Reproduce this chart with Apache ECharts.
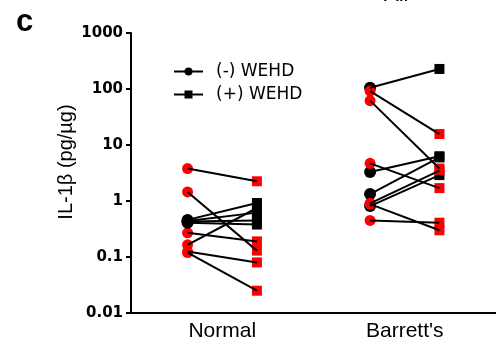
<!DOCTYPE html>
<html>
<head>
<meta charset="utf-8">
<script src="https://cdn.jsdelivr.net/npm/echarts@6/dist/echarts.min.js"></script>
<style>html,body{margin:0;padding:0;background:#fff}#c{width:496px;height:348px}</style>
</head>
<body>
<div id="c"></div>
<script>
const categories = ['Normal', "Barrett's"];
const yTickLabels = ['0.01', '0.1', '1', '10', '100', '1000'];
const legendNames = ['(-) WEHD', '(+) WEHD'];
// Normal group: paired values, (-) WEHD then (+) WEHD
const normalRedMinus = [3.8, 1.45, 0.27, 0.165, 0.125, 0.12];
const normalRedPlus = [2.25, 0.13, 0.19, 0.75, 0.08, 0.025];
const normalBlackMinus = [0.46, 0.44, 0.43, 0.41];
const normalBlackPlus = [0.92, 0.62, 0.45, 0.38];
// Barrett's group
const barrettRedMinus = [92, 62, 4.7, 0.91, 0.88, 0.45];
const barrettRedPlus = [15.7, 3.8, 1.7, 3.5, 0.30, 0.41];
const barrettBlackMinus = [105, 3.3, 1.33, 0.81];
const barrettBlackPlus = [228, 6.3, 6.0, 2.9];

const OFF = 0.19;
function pts(vals, catIdx, side) {
  const x = catIdx + 0.5 + side * OFF;
  return vals.map(v => [x, v]);
}
const RED = '#ff0000', BLACK = '#000000';
const series = [];
function scatter(data, symbol, color, z, size) {
  series.push({type: 'scatter', xAxisIndex: 1, data, symbol, symbolSize: size,
    itemStyle: {color, opacity: 1}, z, silent: true, emphasis: {disabled: true}});
}
// Normal: black markers over red
scatter(pts(normalRedMinus, 0, -1), 'circle', RED, 2, 11);
scatter(pts(normalRedPlus, 0, 1), 'rect', RED, 2, 10);
scatter(pts(normalBlackMinus, 0, -1), 'circle', BLACK, 3, 12);
scatter(pts(normalBlackPlus, 0, 1), 'rect', BLACK, 3, 10);
// Barrett's: red over black
scatter(pts(barrettBlackMinus, 1, -1), 'circle', BLACK, 2, 12);
scatter(pts(barrettBlackPlus, 1, 1), 'rect', BLACK, 2, 10);
scatter(pts(barrettRedMinus, 1, -1), 'circle', RED, 3, 11);
scatter(pts(barrettRedPlus, 1, 1), 'rect', RED, 3, 10);

function pairs(minus, plus, catIdx) {
  minus.forEach((m, i) => {
    series.push({type: 'line', xAxisIndex: 1, symbol: 'none', silent: true, z: 5,
      lineStyle: {color: BLACK, width: 2}, data: [[catIdx + 0.5 - OFF, m], [catIdx + 0.5 + OFF, plus[i]]]});
  });
}
pairs(normalRedMinus, normalRedPlus, 0);
pairs(normalBlackMinus, normalBlackPlus, 0);
pairs(barrettRedMinus, barrettRedPlus, 1);
pairs(barrettBlackMinus, barrettBlackPlus, 1);

series.push({type: 'line', name: legendNames[0], xAxisIndex: 1, data: [], symbol: 'circle', symbolSize: 10,
  itemStyle: {color: BLACK}, lineStyle: {color: BLACK, width: 2}});
series.push({type: 'line', name: legendNames[1], xAxisIndex: 1, data: [], symbol: 'rect', symbolSize: 10,
  itemStyle: {color: BLACK}, lineStyle: {color: BLACK, width: 2}});

const chart = echarts.init(document.getElementById('c'), null, {renderer: 'canvas'});
chart.setOption({
  animation: false,
  backgroundColor: '#fff',
  grid: {left: 131, right: 0, top: 33, bottom: 35, containLabel: false},
  legend: {data: legendNames, orient: 'vertical', left: 168, top: 58, itemWidth: 29, itemHeight: 10, itemGap: 6,
    selectedMode: false, textStyle: {color: '#000', fontFamily: 'DejaVu Sans', fontSize: 17, padding: [0, 0, 0, 8]}},
  xAxis: [
    {type: 'category', data: categories, boundaryGap: true,
      axisLine: {lineStyle: {color: '#000', width: 2}},
      axisTick: {alignWithLabel: true, length: 4, lineStyle: {color: '#000', width: 2}},
      axisLabel: {color: '#000', fontFamily: 'Liberation Sans', fontSize: 21, margin: 8}},
    {type: 'value', min: 0, max: 2, show: false}
  ],
  yAxis: {type: 'log', logBase: 10, min: 0.01, max: 1000,
    axisLine: {show: true, lineStyle: {color: '#000', width: 2}},
    axisTick: {show: true, length: 5, lineStyle: {color: '#000', width: 2}},
    minorTick: {show: false}, splitLine: {show: false},
    axisLabel: {color: '#000', fontFamily: 'DejaVu Sans', fontWeight: 'bold', fontSize: 15, margin: 8,
      formatter: (v) => { const i = Math.round(Math.log10(v)) + 2; return yTickLabels[i] !== undefined ? yTickLabels[i] : ''; }}},
  graphic: [
    {type: 'text', left: 16, top: 7, style: {text: 'c', fontFamily: 'Liberation Sans', fontWeight: 'bold', fontSize: 31, fill: '#000'}},
    {type: 'text', x: 384, y: 6, style: {text: 'All', fontFamily: 'Liberation Sans', fontSize: 22, fill: '#000', textVerticalAlign: 'bottom'}},
    {type: 'text', x: 66, y: 162, rotation: Math.PI / 2,
      style: {text: 'IL-1β (pg/µg)', fontFamily: 'Liberation Sans', fontSize: 20, fill: '#000', align: 'center', verticalAlign: 'middle'}}
  ],
  series
});
</script>
</body>
</html>
